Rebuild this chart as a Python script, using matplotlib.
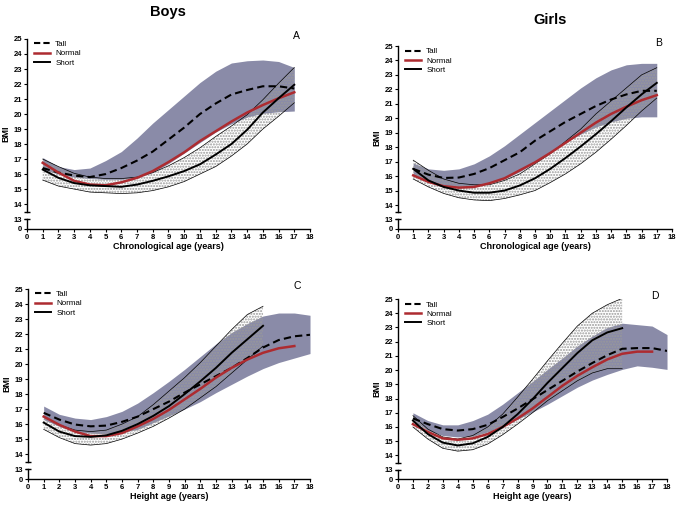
import numpy as np
import matplotlib.pyplot as plt
from matplotlib.lines import Line2D

plt.rcParams['font.family'] = ['Liberation Sans', 'DejaVu Sans']

# ages
age_17 = np.arange(1, 18)
age_18 = np.arange(1, 19)
age_15 = np.arange(1, 16)

# A: boys, chronological age
a_tall = [16.4, 16.1, 15.9, 15.8, 16.0, 16.4, 16.9, 17.5, 18.3, 19.1, 20.0, 20.7, 21.3, 21.6, 21.85, 21.85, 21.7]
a_tall_hi = [17.1, 16.5, 16.3, 16.4, 16.9, 17.5, 18.4, 19.4, 20.3, 21.2, 22.1, 22.85, 23.4, 23.55, 23.6, 23.5, 23.1]
a_tall_lo = [16.3, 16.0, 15.8, 15.7, 15.65, 15.65, 15.75, 16.1, 16.7, 17.4, 18.1, 18.8, 19.35, 19.8, 20.05, 20.15, 20.2]
a_normal = [16.75, 16.1, 15.55, 15.3, 15.25, 15.45, 15.75, 16.2, 16.8, 17.45, 18.2, 18.85, 19.5, 20.1, 20.6, 21.05, 21.45]
a_short = [16.3, 15.75, 15.4, 15.25, 15.2, 15.15, 15.3, 15.55, 15.85, 16.2, 16.65, 17.3, 18.0, 18.95, 20.1, 21.05, 21.95]
a_short_hi = [17.0, 16.5, 16.05, 15.8, 15.7, 15.7, 15.8, 16.1, 16.55, 17.1, 17.75, 18.5, 19.2, 19.95, 20.95, 22.05, 23.1]
a_short_lo = [15.6, 15.2, 15.0, 14.8, 14.75, 14.7, 14.75, 14.9, 15.15, 15.5, 16.0, 16.5, 17.2, 18.0, 19.0, 19.85, 20.75]

# B: girls, chronological age
b_tall = [16.5, 16.1, 15.87, 15.9, 16.15, 16.55, 17.1, 17.65, 18.45, 19.1, 19.75, 20.3, 20.85, 21.3, 21.65, 21.9, 21.9]
b_tall_hi = [16.9, 16.5, 16.4, 16.5, 16.85, 17.4, 18.1, 18.9, 19.7, 20.5, 21.3, 22.1, 22.8, 23.35, 23.7, 23.8, 23.8]
b_tall_lo = [16.05, 15.6, 15.25, 15.2, 15.25, 15.5, 15.8, 16.3, 16.95, 17.65, 18.35, 18.9, 19.4, 19.75, 20.0, 20.1, 20.1]
b_normal = [16.05, 15.6, 15.3, 15.2, 15.25, 15.5, 15.85, 16.4, 16.95, 17.6, 18.3, 19.0, 19.7, 20.3, 20.8, 21.25, 21.6]
b_short = [16.5, 15.7, 15.25, 15.0, 14.85, 14.85, 15.0, 15.35, 15.85, 16.5, 17.25, 18.05, 18.9, 19.8, 20.75, 21.65, 22.45]
b_short_hi = [17.1, 16.4, 15.8, 15.5, 15.4, 15.4, 15.7, 16.15, 16.85, 17.55, 18.4, 19.25, 20.3, 21.2, 22.1, 23.0, 23.5]
b_short_lo = [15.8, 15.25, 14.8, 14.5, 14.35, 14.3, 14.45, 14.7, 15.0, 15.55, 16.15, 16.85, 17.65, 18.55, 19.5, 20.5, 21.4]

# C: boys, height age
c_tall = [16.75, 16.3, 15.97, 15.85, 15.9, 16.15, 16.5, 17.0, 17.5, 18.1, 18.65, 19.2, 19.75, 20.4, 21.1, 21.6, 21.85, 21.95]
c_tall_hi = [17.2, 16.65, 16.4, 16.3, 16.5, 16.85, 17.4, 18.1, 18.85, 19.65, 20.5, 21.35, 22.1, 22.7, 23.2, 23.4, 23.4, 23.25]
c_tall_lo = [16.3, 15.85, 15.5, 15.4, 15.35, 15.45, 15.65, 16.1, 16.55, 17.0, 17.5, 18.1, 18.65, 19.2, 19.7, 20.1, 20.4, 20.7]
c_normal = [16.5, 15.95, 15.5, 15.2, 15.2, 15.4, 15.85, 16.35, 16.95, 17.65, 18.35, 19.1, 19.75, 20.3, 20.75, 21.05, 21.2]
c_short = [16.1, 15.5, 15.2, 15.15, 15.25, 15.55, 16.0, 16.55, 17.2, 18.0, 18.85, 19.75, 20.75, 21.65, 22.55]
c_short_hi = [16.5, 15.95, 15.6, 15.5, 15.6, 16.0, 16.5, 17.3, 18.2, 19.1, 20.1, 21.2, 22.3, 23.3, 23.85]
c_short_lo = [15.65, 15.1, 14.7, 14.6, 14.7, 15.0, 15.4, 15.85, 16.4, 17.0, 17.75, 18.5, 19.4, 20.3, 21.2]

# D: girls, height age
d_tall = [16.6, 16.2, 15.85, 15.75, 15.85, 16.15, 16.7, 17.3, 17.95, 18.6, 19.25, 19.9, 20.5, 21.05, 21.5, 21.55, 21.55, 21.35]
d_tall_hi = [17.0, 16.45, 16.15, 16.15, 16.45, 16.9, 17.6, 18.4, 19.2, 20.05, 20.85, 21.7, 22.4, 23.0, 23.3, 23.2, 23.1, 22.5]
d_tall_lo = [16.45, 15.75, 15.4, 15.3, 15.35, 15.65, 16.1, 16.55, 17.05, 17.6, 18.2, 18.8, 19.3, 19.7, 20.05, 20.3, 20.2, 20.05]
d_normal = [16.2, 15.65, 15.2, 15.1, 15.2, 15.5, 16.0, 16.6, 17.3, 18.1, 18.9, 19.6, 20.2, 20.75, 21.15, 21.3, 21.3]
d_short = [16.45, 15.5, 14.9, 14.7, 14.85, 15.3, 16.0, 16.9, 17.95, 19.1, 20.15, 21.2, 22.1, 22.65, 22.95]
d_short_hi = [16.8, 15.85, 15.3, 15.15, 15.4, 16.0, 16.9, 18.1, 19.35, 20.65, 21.9, 23.1, 24.0, 24.6, 25.05]
d_short_lo = [16.0, 15.15, 14.5, 14.3, 14.4, 14.8, 15.45, 16.2, 17.0, 17.85, 18.55, 19.25, 19.8, 20.1, 20.1]

y_ticks = [0, 13] + list(range(14, 26))
x_ticks = list(range(0, 19))

BAND = '#8a8ba8'
RED = '#ad2b30'


# broken y axis: 0..13 squeezed into a small strip
def fwd(y):
    y = np.asarray(y, float)
    return np.where(y >= 13, y, 13 - (13 - y) * 0.66 / 13)


def inv(v):
    v = np.asarray(v, float)
    return np.where(v >= 13, v, 13 - (13 - v) * 13 / 0.66)


def draw_panel(ax, tall_x, tall, tall_lo, tall_hi, norm_x, normal, short_x, short, short_lo, short_hi, letter, xlabel):
    ax.set_yscale('function', functions=(fwd, inv))
    ax.fill_between(tall_x, tall_lo, tall_hi, color=BAND, lw=0, zorder=1)
    ax.fill_between(short_x, short_lo, short_hi, facecolor='none', edgecolor='#999999',
                    hatch='......', lw=0, zorder=2)
    ax.plot(short_x, short_lo, color='black', lw=0.5, zorder=3)
    ax.plot(short_x, short_hi, color='black', lw=0.5, zorder=3)
    ax.plot(tall_x, tall, color='black', lw=1.5, ls=(0, (3.5, 2)), zorder=4)
    ax.plot(norm_x, normal, color=RED, lw=1.8, zorder=5)
    ax.plot(short_x, short, color='black', lw=1.4, zorder=6)

    ax.set_xlim(0, 18)
    ax.set_ylim(0, 25)
    ax.set_xticks(x_ticks)
    ax.set_yticks(y_ticks)
    ax.tick_params(labelsize=5.5, length=2.5, width=0.8, pad=1)
    for lab in ax.get_xticklabels() + ax.get_yticklabels():
        lab.set_fontweight('bold')
    ax.spines['top'].set_visible(False)
    ax.spines['right'].set_visible(False)
    ax.spines['left'].set_bounds(13.5, 25)
    ax.spines['left'].set_linewidth(1)
    ax.spines['bottom'].set_linewidth(1)
    tr = ax.get_yaxis_transform()
    ax.plot([0, 0], [0, 13], color='black', lw=1, transform=tr, clip_on=False)
    ax.plot([0, 0], [13.5, 13], color='black', lw=0, marker='_', ms=5, mew=1,
            transform=tr, clip_on=False)

    ax.set_xlabel(xlabel, fontsize=6.5, fontweight='bold', labelpad=1)
    ax.set_ylabel('BMI', fontsize=6.5, fontweight='bold', labelpad=2)
    ax.text(0.94, 1.0, letter, transform=ax.transAxes, fontsize=7.5)

    handles = [Line2D([], [], color='black', lw=1.5, ls=(0, (3, 1.5))),
               Line2D([], [], color=RED, lw=1.8),
               Line2D([], [], color='black', lw=1.4)]
    ax.legend(handles, ['Tall', 'Normal', 'Short'], loc='upper left', bbox_to_anchor=(0.0, 1.03),
              frameon=False, fontsize=5.8, handlelength=2, labelspacing=0.2, handletextpad=0.6)


fig = plt.figure(figsize=(6.83, 5.09), dpi=100)
ax_a = fig.add_axes([0.0395, 0.5501, 0.4144, 0.3733])
ax_b = fig.add_axes([0.5827, 0.5501, 0.4012, 0.3595])
ax_c = fig.add_axes([0.0410, 0.0589, 0.4129, 0.3733])
ax_d = fig.add_axes([0.5827, 0.0589, 0.3939, 0.3536])

draw_panel(ax_a, age_17, a_tall, a_tall_lo, a_tall_hi, age_17, a_normal,
           age_17, a_short, a_short_lo, a_short_hi, 'A', 'Chronological age (years)')
draw_panel(ax_b, age_17, b_tall, b_tall_lo, b_tall_hi, age_17, b_normal,
           age_17, b_short, b_short_lo, b_short_hi, 'B', 'Chronological age (years)')
draw_panel(ax_c, age_18, c_tall, c_tall_lo, c_tall_hi, age_17, c_normal,
           age_15, c_short, c_short_lo, c_short_hi, 'C', 'Height age (years)')
draw_panel(ax_d, age_18, d_tall, d_tall_lo, d_tall_hi, age_17, d_normal,
           age_15, d_short, d_short_lo, d_short_hi, 'D', 'Height age (years)')

fig.text(168 / 683, 1 - 12 / 509, 'Boys', ha='center', va='center', fontsize=10.5, fontweight='bold')
fig.text(550 / 683, 1 - 20 / 509, 'Girls', ha='center', va='center', fontsize=10.5, fontweight='bold')

fig.savefig('out.png', dpi=100)
